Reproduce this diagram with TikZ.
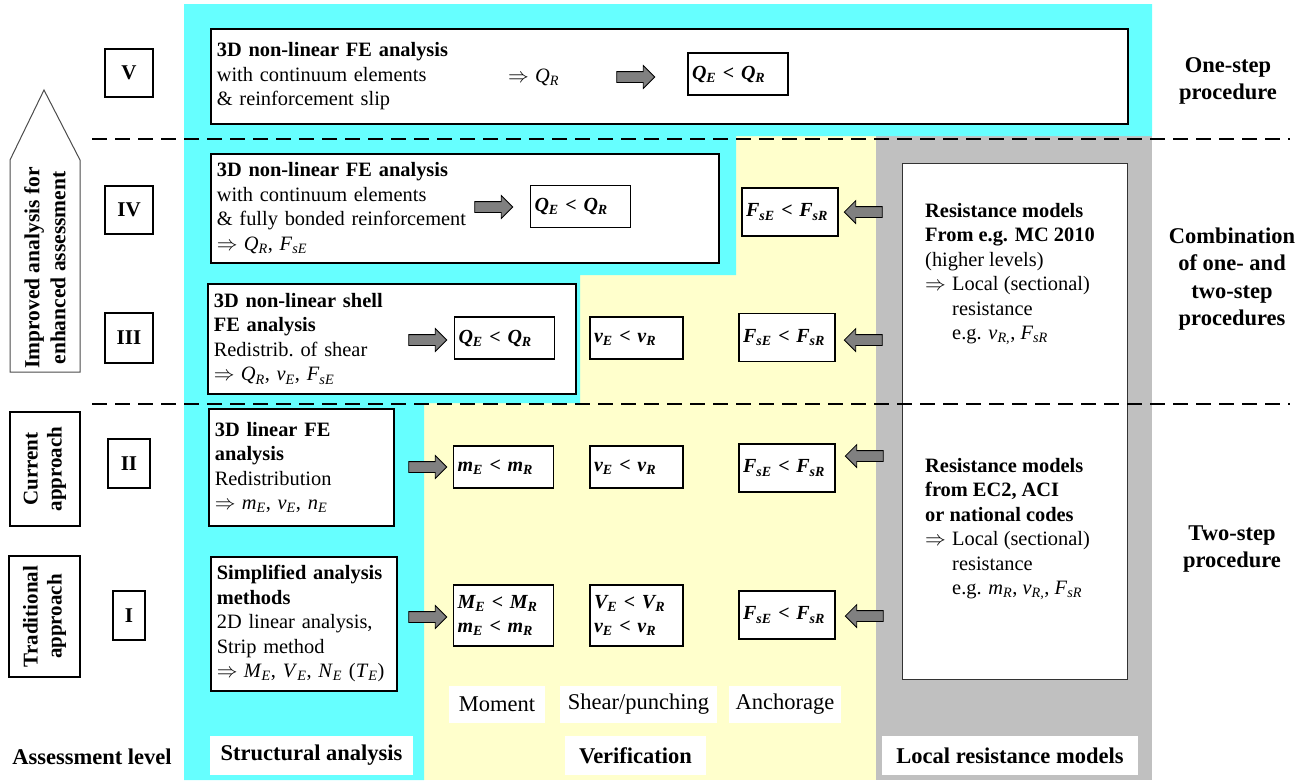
\documentclass[tikz,border=0pt]{standalone}
\usepackage{fontspec}
\setmainfont{Liberation Serif}
\usetikzlibrary{shapes.arrows,positioning}

\definecolor{cyanbg}{RGB}{102,255,255}
\definecolor{yellowbg}{RGB}{255,255,204}
\definecolor{graybg}{RGB}{192,192,192}
\definecolor{arrowgray}{RGB}{128,128,128}

\newcommand{\boxfont}{\fontsize{20.4}{24.5}\selectfont}
\newcommand{\lblfont}{\fontsize{22.5}{27.5}\selectfont}
\newcommand{\vsub}[2]{\textit{#1}\textsubscript{\textit{#2}}}
\newcommand{\impl}{\makebox[27pt][l]{$\Rightarrow$}}

\tikzset{
  every node/.style={font=\boxfont},
  lvl/.style={draw, line width=1.6, inner sep=0, font=\fontsize{21}{24.5}\selectfont\bfseries},
  mainbox/.style={draw, fill=white, line width=1.6, anchor=north west, align=left, inner xsep=6, inner ysep=0},
  chk/.style={draw, fill=white, line width=1.6, align=left, inner xsep=4, inner ysep=0, font=\fontsize{20}{24.5}\selectfont\bfseries\itshape},
  chkq/.style={chk, text width=92, minimum height=42},
  chkv/.style={chk, text width=85, minimum height=42},
  chkf/.style={chk, text width=88, minimum height=48},
  fatright/.style={single arrow, draw, line width=0.8, fill=arrowgray, minimum height=38, single arrow head extend=6, inner sep=5},
  fatleft/.style={fatright, shape border rotate=180},
  sidebox/.style={draw, line width=1.6, rotate=90, align=center, inner sep=0, font=\fontsize{21}{24}\selectfont\bfseries},
  sidelbl/.style={align=center, inner sep=0, font=\lblfont\bfseries},
  tag/.style={fill=white, minimum height=39, inner sep=0, font=\lblfont},
  dashline/.style={line width=1.6, dash pattern=on 15pt off 8pt}
}

\begin{document}
\begin{tikzpicture}[x=1pt,y=-1pt]
  \useasboundingbox (0,0) rectangle (1308,780);

  \fill[yellowbg] (424,136) rectangle (876,780);
  \fill[graybg] (876,136) rectangle (1152,780);
  \fill[cyanbg] (184,4) -- (1152,4) -- (1152,136) -- (736,136) -- (736,275) -- (580,275)
    -- (580,403) -- (424,403) -- (424,780) -- (184,780) -- cycle;

  \node[draw=black!80, line width=1.2, fill=white, anchor=north west, inner sep=0,
    minimum width=225, minimum height=516] (resbox) at (902,163) {};

  \draw[dashline] (92,139) -- (1290,139);
  \draw[dashline] (92,404) -- (1290,404);

  \draw[line width=1, draw=black!70, fill=white] (10,372) -- (10,160) -- (44,90) -- (80,160) -- (80,372) -- cycle;
  \node[sidebox, draw=none, font=\fontsize{21.5}{26}\selectfont\bfseries] (improved) at (45,268) {Improved analysis for\\enhanced assessment};
  \node[sidebox, minimum width=114, minimum height=70] (current) at (45,469) {Current\\approach};
  \node[sidebox, minimum width=121, minimum height=71] (traditional) at (44.5,616.5) {Traditional\\approach};

  \node[lvl, minimum width=48, minimum height=48] (lvV) at (129,73) {V};
  \node[lvl, minimum width=48, minimum height=48] (lvIV) at (129,210) {IV};
  \node[lvl, minimum width=48, minimum height=50] (lvIII) at (129,338) {III};
  \node[lvl, minimum width=42, minimum height=49] (lvII) at (129,463.5) {II};
  \node[lvl, minimum width=32, minimum height=49] (lvI) at (129,615.5) {I};

  \node[mainbox, text width=905, minimum height=95] (mainV) at (210,28)
    {\textbf{3D non-linear FE analysis}\\with continuum elements\\\& reinforcement slip};
  \node[mainbox, text width=496, minimum height=109] (mainIV) at (210,153)
    {\textbf{3D non-linear FE analysis}\\with continuum elements\\\& fully bonded reinforcement\\\impl\vsub{Q}{R}, \vsub{F}{sE}};
  \node[mainbox, text width=356, minimum height=110] (mainIII) at (207,283)
    {\textbf{3D non-linear shell}\\\textbf{FE analysis}\\Redistrib.\ of shear\\\impl\vsub{Q}{R}, \vsub{v}{E}, \vsub{F}{sE}};
  \node[mainbox, text width=173, minimum height=117] (mainII) at (208,408)
    {\textbf{3D linear FE}\\\textbf{analysis}\\Redistribution\\\impl\vsub{m}{E}, \vsub{v}{E}, \vsub{n}{E}};
  \node[mainbox, text width=174, minimum height=134] (mainI) at (210,556)
    {\textbf{Simplified analysis}\\\textbf{methods}\\2D linear analysis,\\Strip method\\\impl\vsub{M}{E}, \vsub{V}{E}, \vsub{N}{E} (\vsub{T}{E})};

  \node[anchor=west, inner sep=0] (resV) at (508,77) {\impl\vsub{Q}{R}};

  \node[chkq] (chkVq) at (738,74) {\vsub{Q}{E} < \vsub{Q}{R}};
  \node[chkq] (chkIVq) at (580.5,206.5) {\vsub{Q}{E} < \vsub{Q}{R}};
  \node[chkf] (chkIVf) at (790,212) {\vsub{F}{sE} < \vsub{F}{sR}};
  \node[chkq] (chkIIIq) at (504.5,338) {\vsub{Q}{E} < \vsub{Q}{R}};
  \node[chkv] (chkIIIv) at (636.5,338) {\vsub{v}{E} < \vsub{v}{R}};
  \node[chkf] (chkIIIf) at (787,337.5) {\vsub{F}{sE} < \vsub{F}{sR}};
  \node[chkq] (chkIIm) at (503.5,467) {\vsub{m}{E} < \vsub{m}{R}};
  \node[chkv] (chkIIv) at (636.5,467) {\vsub{v}{E} < \vsub{v}{R}};
  \node[chkf] (chkIIf) at (787,468) {\vsub{F}{sE} < \vsub{F}{sR}};
  \node[chkq, minimum height=61] (chkIm) at (503.5,615.5) {\vsub{M}{E} < \vsub{M}{R}\\\vsub{m}{E} < \vsub{m}{R}};
  \node[chkv, minimum height=61] (chkIv) at (636.5,615.5) {\vsub{V}{E} < \vsub{V}{R}\\\vsub{v}{E} < \vsub{v}{R}};
  \node[chkf] (chkIf) at (787,615) {\vsub{F}{sE} < \vsub{F}{sR}};

  \node[fatright] (arV) at (633,77) {};
  \node[fatright] (arIV) at (491,207) {};
  \node[fatright] (arIII) at (425,340) {};
  \node[fatright] (arII) at (425,467) {};
  \node[fatright] (arI) at (425,617) {};
  \node[fatleft] (alIV) at (866,212) {};
  \node[fatleft] (alIII) at (866,340) {};
  \node[fatleft] (alII) at (867,456) {};
  \node[fatleft] (alI) at (867,616) {};

  \node[anchor=west, align=left, inner sep=0] (resHigh) at (925,274)
    {\textbf{Resistance models}\\\textbf{From e.g. MC 2010}\\(higher levels)\\\impl Local (sectional)\\\hspace*{27pt}resistance\\\hspace*{27pt}e.g. \vsub{v}{R,}, \vsub{F}{sR}};
  \node[anchor=west, align=left, inner sep=0] (resCode) at (925,529)
    {\textbf{Resistance models}\\\textbf{from EC2, ACI}\\\textbf{or national codes}\\\impl Local (sectional)\\\hspace*{27pt}resistance\\\hspace*{27pt}e.g. \vsub{m}{R}, \vsub{v}{R,}, \vsub{F}{sR}};

  \node[sidelbl] (oneStep) at (1228,81) {One-step\\procedure};
  \node[sidelbl] (combined) at (1232,279) {Combination\\of one- and\\two-step\\procedures};
  \node[sidelbl] (twoStep) at (1232,549) {Two-step\\procedure};

  \node[tag, minimum width=96, minimum height=37] (lblMoment) at (497,704.5) {Moment};
  \node[tag, minimum width=157, minimum height=37] (lblShear) at (638.5,704.5) {Shear/punching};
  \node[tag, minimum width=112, minimum height=37] (lblAnchor) at (785,704.5) {Anchorage};

  \node[sidelbl] (lblLevel) at (92,757) {Assessment level};
  \node[tag, minimum width=203] (lblStruct) at (311.5,755.5) {\bfseries Structural analysis};
  \node[tag, minimum width=141] (lblVerif) at (635.5,755.5) {\bfseries Verification};
  \node[tag, minimum width=256] (lblLocal) at (1010,755.5) {\bfseries Local resistance models};
\end{tikzpicture}
\end{document}
